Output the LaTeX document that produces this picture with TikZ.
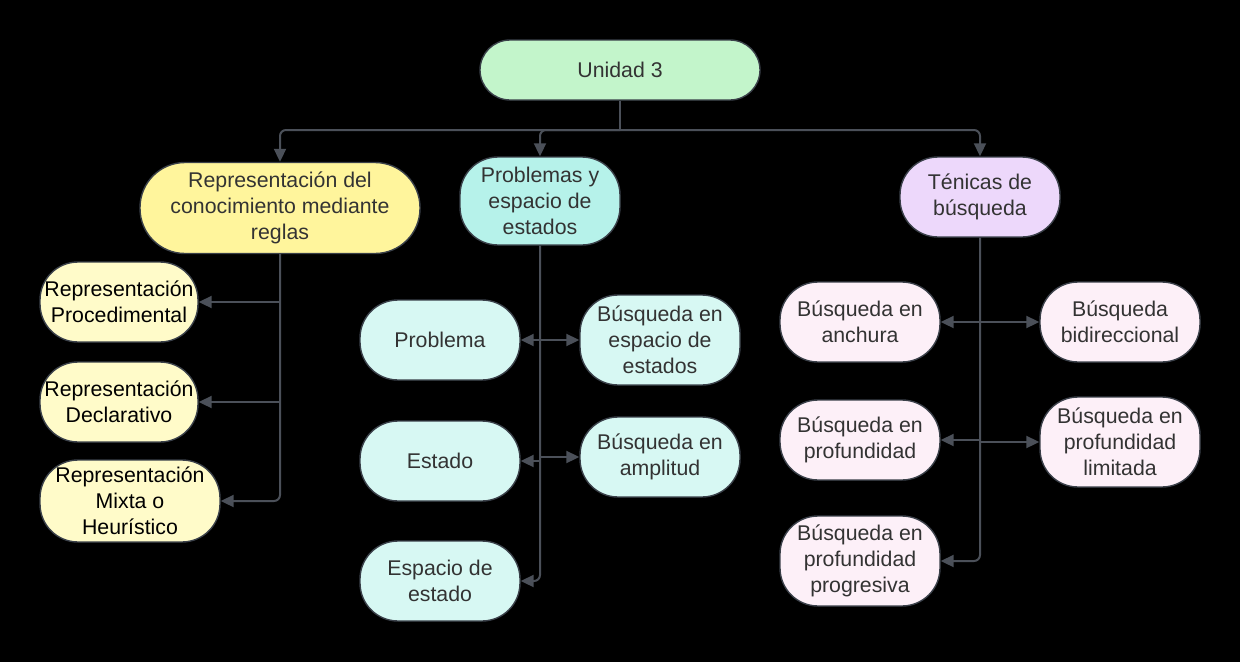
\documentclass[tikz,border=0pt]{standalone}
\usepackage{fontspec}
\setmainfont{Liberation Sans}
\usetikzlibrary{arrows.meta}
\definecolor{bord}{HTML}{3A4049}
\definecolor{conncol}{HTML}{4B5059}
\definecolor{txt}{HTML}{333333}
\definecolor{cgreen}{HTML}{C3F5CB}
\definecolor{cyel}{HTML}{FFF59C}
\definecolor{cyell}{HTML}{FFFBC9}
\definecolor{ccyan}{HTML}{B6F2EA}
\definecolor{ccyanl}{HTML}{D7F8F3}
\definecolor{clav}{HTML}{EDD8FB}
\definecolor{cpink}{HTML}{FDF0F8}
\tikzset{
  box/.style={draw=bord, line width=1.4, align=center, inner sep=0, text=txt,
    font=\fontsize{21.3}{26}\selectfont, minimum width=160, minimum height=80, rounded corners=38},
  conn/.style={draw=conncol, line width=2, -{Triangle[length=13,width=12]}, rounded corners=6},
  trunk/.style={draw=conncol, line width=2}
}
\begin{document}
\begin{tikzpicture}[x=1pt,y=-1pt]
\fill[black] (0,0) rectangle (1240,662);
\useasboundingbox (0,0) rectangle (1240,662);
% top
\node[box, fill=cgreen, minimum width=280, minimum height=60, rounded corners=30] (U) at (620,70) {Unidad 3};
\node[box, fill=cyel, minimum width=280, minimum height=91, rounded corners=45] (R) at (280,208) {Representación del\\conocimiento mediante\\reglas};
\node[box, fill=ccyan, minimum height=88] (P) at (540,201) {Problemas y\\espacio de\\estados};
\node[box, fill=clav] (T) at (980,197) {Ténicas de\\búsqueda};
% left children
\node[box, fill=cyell, minimum width=158, text=black] (R1) at (119,302) {Representación\\Procedimental};
\node[box, fill=cyell, minimum width=158, text=black] (R2) at (119,402) {Representación\\Declarativo};
\node[box, fill=cyell, minimum width=180, minimum height=82, text=black] (R3) at (130,501) {Representación\\Mixta o\\Heurístico};
% middle children
\node[box, fill=ccyanl] (P1) at (440,340) {Problema};
\node[box, fill=ccyanl] (P2) at (440,461) {Estado};
\node[box, fill=ccyanl] (P3) at (440,581) {Espacio de\\estado};
\node[box, fill=ccyanl, minimum height=90] (P4) at (660,340) {Búsqueda en\\espacio de\\estados};
\node[box, fill=ccyanl] (P5) at (660,457) {Búsqueda en\\amplitud};
% right children
\node[box, fill=cpink] (T1) at (860,322) {Búsqueda en\\anchura};
\node[box, fill=cpink] (T2) at (1120,322) {Búsqueda\\bidireccional};
\node[box, fill=cpink] (T3) at (860,440) {Búsqueda en\\profundidad};
\node[box, fill=cpink, minimum height=90] (T4) at (1120,442) {Búsqueda en\\profundidad\\limitada};
\node[box, fill=cpink, minimum height=90] (T5) at (860,561) {Búsqueda en\\profundidad\\progresiva};
% top connectors
\coordinate (j) at (620,130);
\draw[trunk] (U) -- (j);
\draw[conn] (j) -| (R);
\draw[conn] (j) -| (P);
\draw[conn] (j) -| (T);
% left branch
\draw[conn] (R.south) |- (R3);
\draw[conn] (R1 -| R.south) -- (R1);
\draw[conn] (R2 -| R.south) -- (R2);
% middle branch
\draw[conn] (P.south) |- (P3);
\draw[conn] (P1 -| P.south) -- (P1);
\draw[conn] (P4 -| P.south) -- (P4);
\draw[conn] (P2 -| P.south) -- (P2);
\draw[conn] (P5 -| P.south) -- (P5);
% right branch
\draw[conn] (T.south) |- (T5);
\draw[conn] (T1 -| T.south) -- (T1);
\draw[conn] (T2 -| T.south) -- (T2);
\draw[conn] (T3 -| T.south) -- (T3);
\draw[conn] (T4 -| T.south) -- (T4);
\end{tikzpicture}
\end{document}
